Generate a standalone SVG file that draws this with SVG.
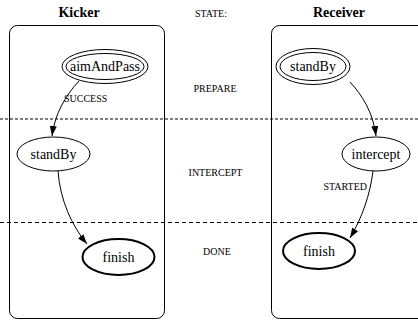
<svg xmlns="http://www.w3.org/2000/svg" width="418" height="322" viewBox="0 0 418 322">
  <style>
    text { font-family: "Liberation Serif", "DejaVu Serif", "Times New Roman", serif; fill: #000; }
    .title { font-size: 14px; font-weight: bold; text-anchor: middle; }
    .state { font-size: 10px; text-anchor: middle; }
    .lbl { font-size: 10px; }
    .ntext { font-size: 14px; text-anchor: middle; }
    .lane { fill: none; stroke: #000; stroke-width: 1; }
    .node { fill: none; stroke: #000; stroke-width: 1; }
    .final { fill: none; stroke: #000; stroke-width: 2; }
    .edge { fill: none; stroke: #000; stroke-width: 1; marker-end: url(#arrow); }
    .sep1 { stroke: #000; stroke-width: 1; stroke-dasharray: 3 2; }
    .sep2 { stroke: #000; stroke-width: 1; stroke-dasharray: 4 3; }
  </style>
  <defs>
    <marker id="arrow" viewBox="0 0 10 7" refX="10" refY="3.5" markerWidth="10" markerHeight="7" markerUnits="userSpaceOnUse" orient="auto">
      <path d="M0,0 L10,3.5 L0,7 Z" fill="#000"/>
    </marker>
  </defs>

  <rect width="418" height="322" fill="#fff"/>

  <!-- swimlanes -->
  <g id="lanes">
    <rect class="lane" x="9.5" y="25.5" width="155" height="293" rx="8"/>
    <rect class="lane" x="271.5" y="25.5" width="160" height="293" rx="8"/>
    <text class="title" x="79" y="17" font-family="Liberation Serif, serif">Kicker</text>
    <text class="title" x="339" y="17" font-family="Liberation Serif, serif">Receiver</text>
  </g>

  <!-- state bands -->
  <g id="states">
    <line class="sep1" x1="0" y1="119" x2="418" y2="119"/>
    <line class="sep2" x1="0" y1="222.5" x2="418" y2="222.5"/>
    <text class="state" x="211" y="17" font-family="Liberation Serif, serif">STATE:</text>
    <text class="state" x="215" y="92" font-family="Liberation Serif, serif">PREPARE</text>
    <text class="state" x="215.5" y="176" font-family="Liberation Serif, serif">INTERCEPT</text>
    <text class="state" x="217" y="255" font-family="Liberation Serif, serif">DONE</text>
  </g>

  <g id="kicker_aimAndPass">
    <ellipse class="node" cx="105" cy="66.5" rx="43" ry="17"/>
    <ellipse class="node" cx="105" cy="66.5" rx="39" ry="13"/>
    <text class="ntext" x="105" y="71" font-family="Liberation Serif, serif">aimAndPass</text>
  </g>
  <g id="kicker_standBy">
    <ellipse class="node" cx="53.5" cy="154" rx="36.5" ry="17"/>
    <text class="ntext" x="53.5" y="159" font-family="Liberation Serif, serif">standBy</text>
  </g>
  <g id="kicker_finish">
    <ellipse class="final" cx="118.5" cy="257" rx="36" ry="18"/>
    <text class="ntext" x="118.5" y="262" font-family="Liberation Serif, serif">finish</text>
  </g>

  <g id="receiver_standBy">
    <ellipse class="node" cx="313" cy="66.5" rx="37" ry="18"/>
    <ellipse class="node" cx="313" cy="66.5" rx="33" ry="14"/>
    <text class="ntext" x="313" y="71" font-family="Liberation Serif, serif">standBy</text>
  </g>
  <g id="receiver_intercept">
    <ellipse class="node" cx="376" cy="154" rx="34" ry="17"/>
    <text class="ntext" x="376" y="159" font-family="Liberation Serif, serif">intercept</text>
  </g>
  <g id="receiver_finish">
    <ellipse class="final" cx="319" cy="251" rx="36" ry="18"/>
    <text class="ntext" x="319" y="256" font-family="Liberation Serif, serif">finish</text>
  </g>

  <!-- transitions -->
  <g id="edges">
    <path class="edge" d="M79,81 C66,95 55,113 52,136"/>
    <path class="edge" d="M58,171 C60,200 72,226 87,244"/>
    <path class="edge" d="M350,82 C362,95 373,112 376,136"/>
    <path class="edge" d="M373,171 C370,195 362,218 350,238"/>
    <text class="lbl" x="64" y="102" font-family="Liberation Serif, serif">SUCCESS</text>
    <text class="lbl" x="367" y="190" text-anchor="end" font-family="Liberation Serif, serif">STARTED</text>
  </g>
</svg>
